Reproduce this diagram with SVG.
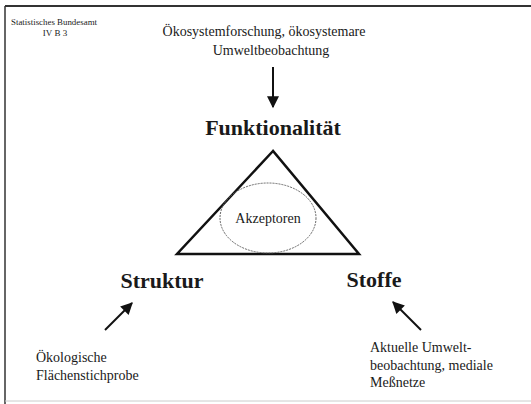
<svg xmlns="http://www.w3.org/2000/svg" width="531" height="404" viewBox="0 0 531 404">
<style>
text{font-family:"Liberation Serif","Times New Roman",serif;fill:#1a1a1a}
.lbl{font-size:14px}
.big{font-size:22px;font-weight:bold}
.small{font-size:9px}
.arr{stroke:#111;stroke-width:2;fill:none;marker-end:url(#ah)}
</style>
<defs>
<marker id="ah" viewBox="0 0 10 10" refX="9" refY="5" markerWidth="9" markerHeight="6" orient="auto" markerUnits="strokeWidth">
<path d="M0,0 L10,5 L0,10 z" fill="#111"/>
</marker>
</defs>
<rect width="531" height="404" fill="#fff"/>
<g id="frame">
<line x1="5" y1="6" x2="531" y2="6" stroke="#333" stroke-width="2"/>
<line x1="5" y1="6" x2="5" y2="404" stroke="#333" stroke-width="1.5"/>
<line x1="5" y1="401" x2="531" y2="401" stroke="#ccc" stroke-width="1"/>
</g>
<g id="header">
<text class="small" x="11" y="25" textLength="86" lengthAdjust="spacingAndGlyphs">Statistisches Bundesamt</text>
<text class="small" x="55" y="36" text-anchor="middle">IV B 3</text>
</g>
<g id="oekosystem">
<text class="lbl" x="264" y="36" text-anchor="middle">Ökosystemforschung, ökosystemare</text>
<text class="lbl" x="271" y="55" text-anchor="middle">Umweltbeobachtung</text>
</g>
<g id="funktionalitaet">
<text class="big" x="273" y="135" text-anchor="middle">Funktionalität</text>
</g>
<g id="triangle">
<polygon points="273,151 177,254 359,254" fill="none" stroke="#111" stroke-width="2.5" stroke-linejoin="miter"/>
</g>
<g id="akzeptoren">
<ellipse cx="268" cy="218" rx="48" ry="35" fill="none" stroke="#666" stroke-width="1" stroke-dasharray="2,1"/>
<text class="lbl" x="268" y="223" text-anchor="middle">Akzeptoren</text>
</g>
<g id="struktur">
<text class="big" x="162" y="288" text-anchor="middle">Struktur</text>
</g>
<g id="stoffe">
<text class="big" x="374" y="287" text-anchor="middle">Stoffe</text>
</g>
<g id="flaechen">
<text class="lbl" x="36" y="362">Ökologische</text>
<text class="lbl" x="36" y="380">Flächenstichprobe</text>
</g>
<g id="aktuelle">
<text class="lbl" x="370" y="352">Aktuelle Umwelt-</text>
<text class="lbl" x="370" y="370">beobachtung, mediale</text>
<text class="lbl" x="370" y="387">Meßnetze</text>
</g>
<g id="connectors">
<line class="arr" x1="273" y1="67" x2="273" y2="107"/>
<line class="arr" x1="105" y1="330" x2="132" y2="303"/>
<line class="arr" x1="421" y1="330" x2="393" y2="302"/>
</g>
</svg>
